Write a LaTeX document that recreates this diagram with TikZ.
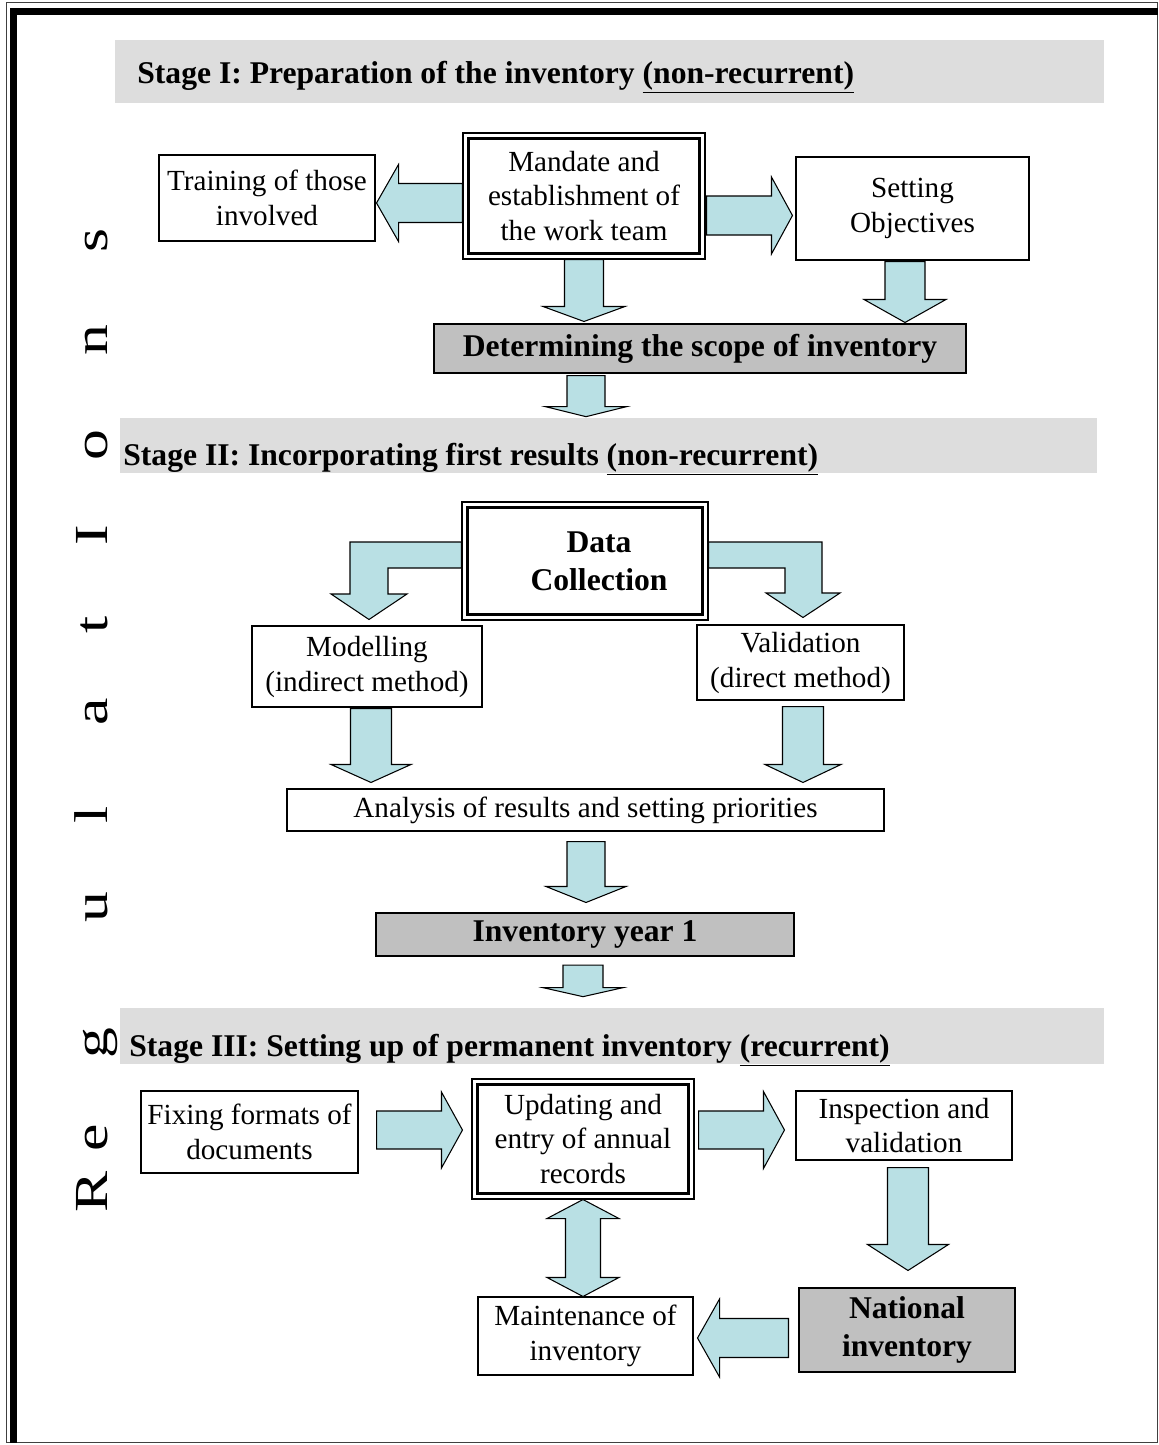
\documentclass[tikz,border=0pt]{standalone}
\usepackage{fontspec}
\setmainfont{Liberation Serif}
\usetikzlibrary{calc}

\definecolor{arrowcol}{RGB}{185,224,228}
\definecolor{bandgray}{RGB}{221,221,221}
\definecolor{boxgray}{RGB}{192,192,192}

\def\arrshaft{11pt}
\def\arrheadw{22pt}
\def\arrhead{12pt}

\tikzset{
    wd/.style={minimum width={#1*0.02cm}},
    ht/.style={minimum height={#1*0.02cm}},
    box/.style={draw, line width=0.6pt, fill=white, align=center, inner sep=0pt,
        font=\fontsize{16.6}{19.9}\selectfont},
    graybox/.style={box, fill=boxgray, font=\bfseries\fontsize{18}{21.5}\selectfont},
    band/.style={fill=bandgray, inner sep=0pt},
    stagetext/.style={anchor=base west, inner sep=0pt, font=\bfseries\fontsize{18}{21.5}\selectfont},
    letter/.style={rotate=90, anchor=base, inner sep=0pt, font=\fontsize{27}{30}\selectfont},
    shafthw/.code={\pgfmathsetlengthmacro\arrshaft{#1*0.02cm}},
    headhw/.code={\pgfmathsetlengthmacro\arrheadw{#1*0.02cm}},
    headlen/.code={\pgfmathsetlengthmacro\arrhead{#1*0.02cm}},
    fatpoly/.style={draw, line width=0.6pt, fill=arrowcol, line join=miter},
    fat/.style={fatpoly, to path={
        let \p1=(\tikztostart), \p2=(\tikztotarget), \p3=($(\p2)!\arrhead!(\p1)$) in
        ($(\p1)!\arrshaft!90:(\p2)$) -- ($(\p3)!\arrshaft!90:(\p2)$) -- ($(\p3)!\arrheadw!90:(\p2)$)
        -- (\p2) -- ($(\p3)!\arrheadw!-90:(\p2)$) -- ($(\p3)!\arrshaft!-90:(\p2)$)
        -- ($(\p1)!\arrshaft!-90:(\p2)$) -- cycle}},
    fatboth/.style={fatpoly, to path={
        let \p1=(\tikztostart), \p2=(\tikztotarget), \p3=($(\p1)!\arrhead!(\p2)$), \p4=($(\p2)!\arrhead!(\p1)$) in
        (\p1) -- ($(\p3)!\arrheadw!90:(\p2)$) -- ($(\p3)!\arrshaft!90:(\p2)$) -- ($(\p4)!\arrshaft!90:(\p2)$)
        -- ($(\p4)!\arrheadw!90:(\p2)$) -- (\p2) -- ($(\p4)!\arrheadw!-90:(\p2)$) -- ($(\p4)!\arrshaft!-90:(\p2)$)
        -- ($(\p3)!\arrshaft!-90:(\p2)$) -- ($(\p3)!\arrheadw!-90:(\p2)$) -- cycle}}
}

\begin{document}
\begin{tikzpicture}[x=0.02cm, y=0.02cm]
    \useasboundingbox (0,0) rectangle (1159,-1445);

    % page frame
    \draw[line width=0.5pt, black!75] (6.5,-2.5) rectangle (1157.5,-1442.5);
    \fill (10,-8) rectangle (1158,-14.5);
    \fill (10,-8) rectangle (17,-1442.5);

    \foreach \ch/\yy [count=\i] in {R/1192, e/1138, g/1043, u/907, l/815, a/712, t/625, I/535, o/445, n/340, s/240}
        \node[letter] (reg\i) at (107,-\yy) {\scalebox{1.3}[1]{\ch}};

    % stage I
    \node[band, wd=989, ht=63] (band1) at (609.5,-71.5) {};
    \node[stagetext] (stage1) at (137,-83) {Stage I: Preparation of the inventory \underline{(non-recurrent)}};

    \node[box, wd=216, ht=86] (train) at (267,-198) {Training of those\\involved};
    \node[box, wd=242, ht=126] (mandate) at (584,-196) {Mandate and\\establishment of\\the work team};
    \node[box, wd=233, ht=103] (setobj) at (912.5,-208.5) {Setting\\Objectives};
    \node[graybox, wd=532, ht=49] (scope) at (700,-348.5) {Determining the scope of inventory};

    \draw[fat, shafthw=19.5, headhw=38.5, headlen=22] ($(mandate.west)+(0,-7)$) to ($(train.east)+(1,-5)$);
    \draw[fat, shafthw=19.5, headhw=38.5, headlen=21] ($(mandate.east)+(1,-19.5)$) to ($(setobj.west)+(-3,-7)$);
    \draw[fat, shafthw=19.5, headhw=41, headlen=15] (mandate.south) to ($(mandate.south |- scope.north)+(0,2)$);
    \draw[fat, shafthw=20, headhw=41, headlen=23] ($(setobj.south)+(-7.5,-1)$) to ($(setobj.south |- scope.north)+(-7.5,1)$);

    % stage II
    \node[band, wd=977, ht=55] (band2) at (608.5,-445.5) {};
    \node[stagetext] (stage2) at (123,-465) {Stage II: Incorporating first results \underline{(non-recurrent)}};

    \draw[fat, shafthw=19, headhw=40.5, headlen=10] ($(mandate.south |- scope.south)+(2,-2)$) to ($(mandate.south |- band2.north)+(2,1)$);

    \node[box, wd=246, ht=118, font=\bfseries\fontsize{18}{21.5}\selectfont] (datac) at (585,-561)
        {\hspace*{16pt}Data\\\hspace*{16pt}Collection};
    \node[box, wd=230, ht=81] (model) at (367,-666.5) {Modelling\\(indirect method)};
    \node[box, wd=207, ht=75] (valid) at (800.5,-662.5) {Validation\\(direct method)};
    \node[box, wd=597, ht=42] (analysis) at (585.5,-810) {Analysis of results and setting priorities};
    \node[graybox, wd=418, ht=43] (year1) at (585,-934.5) {Inventory year 1};

    \draw[fatpoly] ($(datac.west)+(0,19)$) -- (350,-542) -- (350,-594) -- (331,-594) -- ($(model.north)+(2,6)$)
        -- (407,-594) -- (388,-594) -- (388,-568) -- ($(datac.west)+(0,-7)$) -- cycle;
    \draw[fatpoly] ($(datac.east)+(0,19)$) -- (822,-542) -- (822,-593) -- (840,-593) -- ($(valid.north)+(2.5,7)$)
        -- (766,-593) -- (785,-593) -- (785,-568) -- ($(datac.east)+(0,-7)$) -- cycle;

    \draw[fat, shafthw=20.5, headhw=40, headlen=18] ($(model.south)+(4,-1)$) to ($(model.south |- analysis.north)+(4,6)$);
    \draw[fat, shafthw=20.5, headhw=38, headlen=18] ($(valid.south)+(2.5,-6)$) to ($(valid.south |- analysis.north)+(2.5,6)$);
    \draw[fat, shafthw=19, headhw=40, headlen=16] ($(analysis.south)+(0.5,-10)$) to ($(analysis.south |- year1.north)+(0.5,10)$);

    % stage III
    \node[band, wd=984, ht=56] (band3) at (612,-1036) {};
    \node[stagetext] (stage3) at (129,-1056) {Stage III: Setting up of permanent inventory \underline{(recurrent)}};

    \draw[fat, shafthw=20, headhw=40, headlen=9] ($(year1.south)+(-2,-8.5)$) to ($(year1.south |- band3.north)+(-2,11)$);

    \node[box, wd=217, ht=82] (fixing) at (249.5,-1132) {Fixing formats of\\documents};
    \node[box, wd=222, ht=120] (update) at (583,-1139) {Updating and\\entry of annual\\records};
    \node[box, wd=216, ht=69] (inspect) at (904,-1125.5) {Inspection and\\validation};
    \node[graybox, wd=216, ht=84] (national) at (907,-1330) {National\\inventory};
    \node[box, wd=215, ht=78] (maint) at (585.5,-1336) {Maintenance of\\inventory};

    \draw[fat, shafthw=19, headhw=38, headlen=21] ($(fixing.east)+(18,2)$) to ($(update.west |- fixing.east)+(-9,2)$);
    \draw[fat, shafthw=19, headhw=38.5, headlen=21] ($(update.east |- fixing.east)+(4,2)$) to ($(inspect.west |- fixing.east)+(-11,2)$);
    \draw[fat, shafthw=20.5, headhw=40.5, headlen=26] ($(inspect.south)+(4,-7)$) to ($(inspect.south |- national.north)+(4,17)$);
    \draw[fat, shafthw=19.5, headhw=39, headlen=22] ($(national.west)+(-10,-8)$) to ($(maint.east |- national.west)+(4,-8)$);
    \draw[fatboth, shafthw=17.5, headhw=36, headlen=19] (update.south) to (update.south |- maint.north);

    % double frames
    \foreach \n in {mandate,datac,update}
        \draw[line width=1.2pt] ([shift={(6,-6)}]\n.north west) rectangle ([shift={(-6,6)}]\n.south east);
\end{tikzpicture}
\end{document}
